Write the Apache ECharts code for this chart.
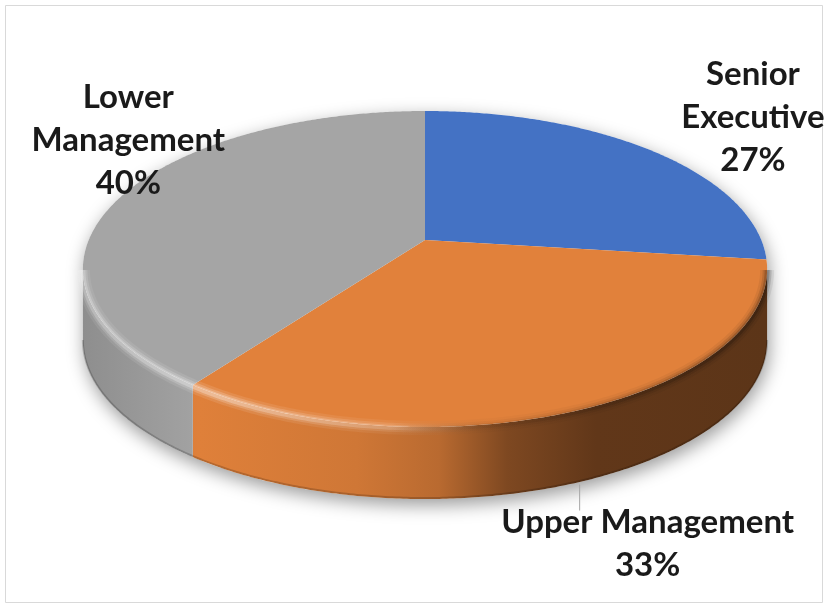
<!DOCTYPE html>
<html>
<head>
<meta charset="utf-8">
<script src="https://cdn.jsdelivr.net/npm/echarts@6/dist/echarts.min.js"></script>
<style>
  html, body { margin: 0; padding: 0; background: #ffffff; }
  #chart { width: 829px; height: 612px; }
</style>
</head>
<body>
<div id="chart"></div>
<script>
// Share of staff by management level
const categories = ['Senior Executive', 'Upper Management', 'Lower Management'];
const labelNames = [['Senior', 'Executive'], ['Upper Management'], ['Lower', 'Management']];
const values = [27, 33, 40];

// Slice colours (Office palette)
const palette = ['#4472C4', '#E1813B', '#A5A5A5'];

// Tilted-disc projection (perspective camera looking down on the pie)
const CX = 425, CY = 240;          // projected pie centre
const FOCAL = 1631, DIST = 4.85;   // camera focal length / distance (radius = 1)
const SIN_T = 0.454, COS_T = Math.sqrt(1 - SIN_T * SIN_T);
const THICK = 72;                  // pie thickness in px
const VIS0 = Math.acos(-COS_T / DIST);  // first angle where the wall faces the viewer
const VIS1 = 2 * Math.PI - VIS0;
const STEP = Math.PI / 360;

// Label placement relative to the rim point at each slice's mid angle
const labelOffsets = [[103, -33], [62, 63], [6, -55]];
const leaderSlices = [1];

const total = values.reduce((a, b) => a + b, 0);
const starts = [];
values.reduce((acc, v) => { starts.push(acc); return acc + v; }, 0);

function rim(theta, r) {
  r = r === undefined ? 1 : r;
  const X = r * Math.sin(theta), Z = -r * Math.cos(theta);
  const yv = -Z * SIN_T, zv = DIST - Z * COS_T;
  return [CX + FOCAL * X / zv, CY - FOCAL * yv / zv];
}
function arc(a0, a1, r, dy) {
  const pts = [];
  const n = Math.max(2, Math.ceil(Math.abs(a1 - a0) / STEP));
  for (let k = 0; k <= n; k++) {
    const p = rim(a0 + (a1 - a0) * k / n, r);
    pts.push([p[0], p[1] + (dy || 0)]);
  }
  return pts;
}
function shade(hex, k) {
  const n = parseInt(hex.slice(1), 16);
  const c = [(n >> 16) & 255, (n >> 8) & 255, n & 255].map(v => Math.max(0, Math.min(255, Math.round(v * k))));
  return 'rgb(' + c.join(',') + ')';
}
// Light falling from the front-left onto the wall
const wallLight = [[0, 0.86], [0.17, 0.99], [0.40, 0.92], [0.52, 0.82], [0.62, 0.56], [0.75, 0.43], [1, 0.41]];
const X_LEFT = rim(-VIS0)[0], X_RIGHT = rim(VIS0)[0];
function wallFill(base) {
  return new echarts.graphic.LinearGradient(X_LEFT, 0, X_RIGHT, 0,
    wallLight.map(s => ({ offset: s[0], color: shade(base, s[1]) })), true);
}
function bevelStroke(a) {
  return new echarts.graphic.LinearGradient(X_LEFT, 0, X_RIGHT, 0, [
    { offset: 0, color: 'rgba(255,255,255,' + (0.30 * a) + ')' },
    { offset: 0.2, color: 'rgba(255,255,255,' + (0.40 * a) + ')' },
    { offset: 0.45, color: 'rgba(255,255,255,' + (0.22 * a) + ')' },
    { offset: 0.6, color: 'rgba(0,0,0,' + (0.08 * a) + ')' },
    { offset: 1, color: 'rgba(0,0,0,' + (0.25 * a) + ')' }
  ], true);
}

function renderItem(params, api) {
  const i = params.dataIndex;
  const v = api.value(0);
  const a0 = starts[i] / total * 2 * Math.PI;
  const a1 = a0 + v / total * 2 * Math.PI;
  const base = palette[i];
  const children = [];

  if (i === 0) {
    // soft drop shadow under the whole disc
    const hull = arc(VIS1, 2 * Math.PI + VIS0, 1, 0).concat(arc(VIS0, VIS1, 1, THICK));
    children.push({
      type: 'polygon', z2: -1, shape: { points: hull },
      style: { fill: '#ffffff', shadowBlur: 18, shadowColor: 'rgba(0,0,0,0.40)', shadowOffsetX: 2, shadowOffsetY: 6 }
    });
  }

  // front wall
  const s0 = Math.max(a0, VIS0), s1 = Math.min(a1, VIS1);
  if (s1 > s0) {
    const wall = arc(s0, s1, 1, 0).concat(arc(s1, s0, 1, THICK));
    children.push({ type: 'polygon', z2: 0, shape: { points: wall }, style: { fill: wallFill(base) } });
    children.push({
      type: 'polyline', z2: 1, shape: { points: arc(s0, s1, 1, THICK - 1) },
      style: { stroke: 'rgba(0,0,0,0.18)', lineWidth: 2, fill: null }
    });
  }

  // top face
  const top = [[CX, CY]].concat(arc(a0, a1, 1, 0));
  children.push({ type: 'polygon', z2: 2, shape: { points: top }, style: { fill: base } });

  // rounded bevel where the top meets the wall: soft stacked strokes
  if (s1 > s0) {
    [[14, 0.25], [9, 0.45], [5, 0.7]].forEach((b, k) => {
      children.push({
        type: 'polyline', z2: 3 + k, shape: { points: arc(s0, s1, 1, 1) },
        style: { stroke: bevelStroke(b[1]), lineWidth: b[0], fill: null, lineCap: 'butt' }
      });
    });
  }

  // data label
  const mid = (a0 + a1) / 2;
  const facing = mid > VIS0 && mid < VIS1;
  const anchor = rim(mid);
  if (facing) anchor[1] += THICK;
  const pct = Math.round(v / total * 100) + '%';
  const lx = anchor[0] + labelOffsets[i][0];
  const ly = anchor[1] + labelOffsets[i][1];
  const nLines = labelNames[i].length + 1;
  children.push({
    type: 'text', z2: 10, x: lx, y: ly,
    style: {
      text: labelNames[i].concat(pct).join('\n'),
      fill: '#1a1a1a', fontFamily: 'Lato', fontWeight: 'bold', fontSize: 33,
      lineHeight: 43, align: 'center', verticalAlign: 'middle'
    }
  });
  if (leaderSlices.indexOf(i) >= 0) {
    const textTop = ly - nLines * 43 / 2 + 10;
    children.push({
      type: 'line', z2: 9,
      shape: { x1: anchor[0] - 6, y1: anchor[1] + 4, x2: anchor[0] - 6, y2: textTop },
      style: { stroke: '#a6a6a6', lineWidth: 1 }
    });
  }
  return { type: 'group', children };
}

const chart = echarts.init(document.getElementById('chart'), null, { renderer: 'canvas' });
chart.setOption({
  animation: false,
  backgroundColor: '#ffffff',
  graphic: [{
    type: 'rect', z: -10, silent: true,
    shape: { x: 5.5, y: 5.5, width: 817, height: 597 },
    style: { fill: null, stroke: '#d9d9d9', lineWidth: 1 }
  }],
  series: [{
    type: 'custom',
    coordinateSystem: 'none',
    silent: true,
    renderItem: renderItem,
    data: values.map((v, i) => ({ name: categories[i], value: [v] }))
  }]
});
</script>
</body>
</html>
